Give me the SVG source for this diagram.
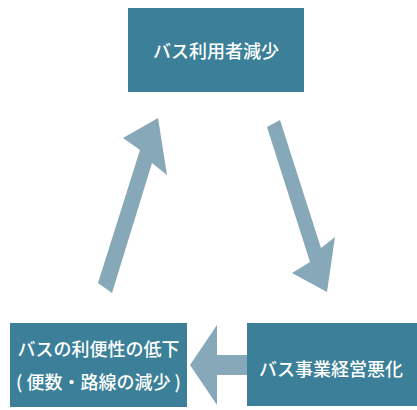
<svg xmlns="http://www.w3.org/2000/svg" width="417" height="410" viewBox="0 0 417 410">
<style>
.box{fill:#3b7f98}
.arrow{fill:#87a8b8}
.t{fill:#ffffff;font-family:"Noto Sans CJK JP","Noto Sans",sans-serif;font-size:18px;font-weight:500;text-anchor:middle;dominant-baseline:central}
</style>
<rect width="417" height="410" fill="#ffffff"/>
<g id="connectors">
<polygon class="arrow" points="98,283 140,150 123,138 158,118 167,175 152,163 112,293"/>
<polygon class="arrow" points="267,127 310,262 292,273 327,292 335,237 321,248 280,120"/>
<polygon class="arrow" points="247,355 217,355 217,325 190,365 217,405 217,375 247,375"/>
</g>
<g id="node-top">
<rect class="box" x="128" y="8" width="176" height="84"/>
<text class="t" x="216" y="50">バス利用者減少</text>
</g>
<g id="node-left">
<rect class="box" x="10" y="323" width="177" height="84"/>
<text class="t" x="98.5" y="348">バスの利便性の低下</text>
<text class="t" x="98.5" y="381">( 便数・路線の減少 )</text>
</g>
<g id="node-right">
<rect class="box" x="247" y="323" width="170" height="83"/>
<text class="t" x="331" y="368">バス事業経営悪化</text>
</g>
</svg>
